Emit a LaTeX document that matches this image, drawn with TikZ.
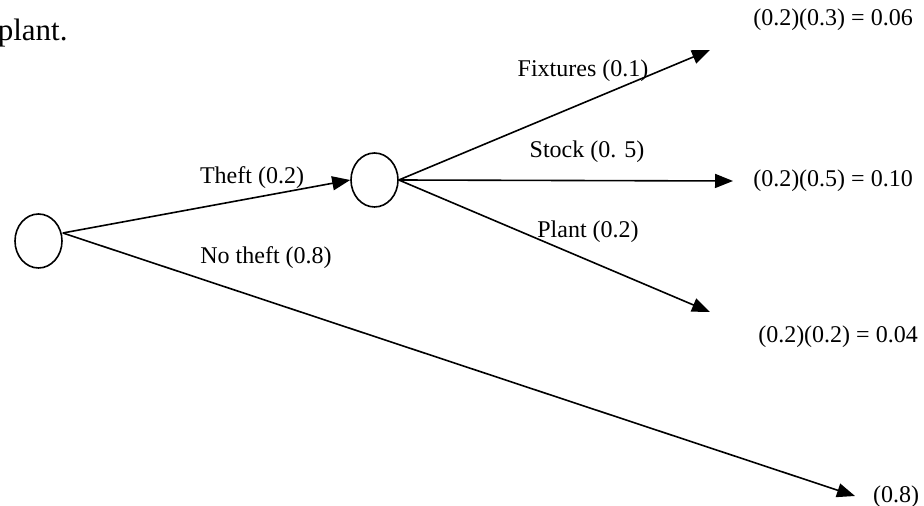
\documentclass[tikz,border=0pt]{standalone}
\usepackage{fontspec}
\setmainfont{Liberation Serif}
\usepackage{tikz}
\usetikzlibrary{shapes,arrows,arrows.meta,positioning}
\tikzset{
	>={Triangle[width=7pt,length=9pt]},
	% Specifications for style of nodes:
	chance/.style = {ellipse, draw=black, line width=0.8pt,
	inner sep=0pt, minimum width=23.5pt, minimum height=27pt},
	lbl/.style = {inner sep=0pt, font=\fontsize{12}{14.4}\selectfont},
	branch/.style = {line width=0.8pt, ->},
}

\begin{document}
\begin{tikzpicture}[x=0.5pt, y=-0.5pt]
	\useasboundingbox (0,0) rectangle (924,506);
		% text cut from the page
		\node (txt)[lbl, anchor=east, font=\fontsize{15.5}{18}\selectfont] at (68,33) {plant.};
		% draw chance nodes
		\node (root)[chance] at (38.5,241) {};
		\node (theft)[chance] at (374.5,180) {};
		% end points of the branches
		\node (tfix)[shape=coordinate] at (710,50) {};
		\node (tstock)[shape=coordinate] at (733,181) {};
		\node (tplant)[shape=coordinate] at (710,312) {};
		\node (tnone)[shape=coordinate] at (855,496) {};
		% branch labels
		\node (ltheft)[lbl] at (252,178) {Theft (0.2)};
		\node (lnone)[lbl] at (266,258) {No theft (0.8)};
		\node (lfix)[lbl] at (583,71) {Fixtures (0.1)};
		\node (lstock)[lbl] at (587,152) {Stock (0. 5)};
		\node (lplant)[lbl] at (588,232) {Plant (0.2)};
		% outcomes
		\node (pfix)[lbl] at (833,20) {(0.2)(0.3) = 0.06};
		\node (pstock)[lbl] at (833,181) {(0.2)(0.5) = 0.10};
		\node (pplant)[lbl] at (838,337) {(0.2)(0.2) = 0.04};
		\node (pnone)[lbl] at (896,497) {(0.8)};
		% draw arrows between nodes
		\draw[branch]([yshift=4pt]root.east) -- (theft.west);
		\draw[branch]([yshift=4pt]root.east) -- (tnone);
		\draw[branch](theft.east) -- (tfix);
		\draw[branch](theft.east) -- (tstock);
		\draw[branch](theft.east) -- (tplant);
	\end{tikzpicture}
\end{document}
